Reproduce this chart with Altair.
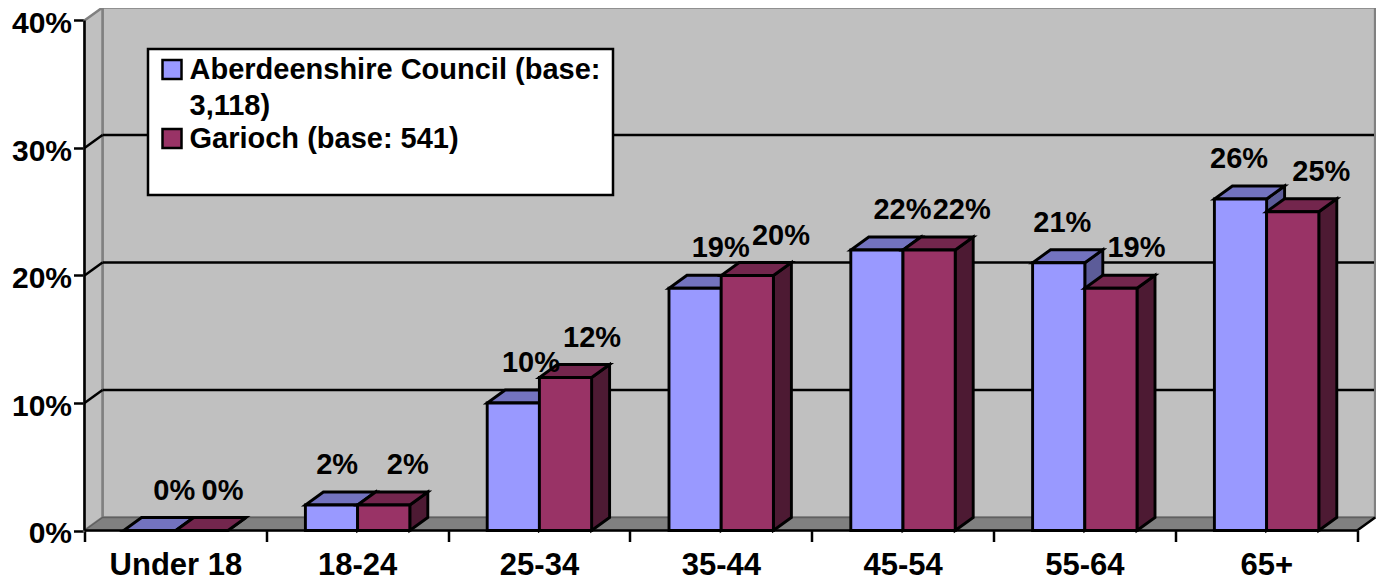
import altair as alt
import pandas as pd

categories = ["Under 18", "18-24", "25-34", "35-44", "45-54", "55-64", "65+"]
aberdeenshire = [0, 2, 10, 19, 22, 21, 26]
garioch = [0, 2, 12, 20, 22, 19, 25]
series_names = ["Aberdeenshire Council (base: 3,118)", "Garioch (base: 541)"]
y_ticks = [0, 10, 20, 30, 40]
grid_values = [10, 20, 30]

# layout constants (pixels)
CAT_W = 181.8
PLOT_W = 1291.5
PLOT_H = 522.5
PCT = 12.75
DX = 18 / CAT_W
DY = 13 / PCT
BAR_W = 52.2 / CAT_W
BAR_SHIFT = 0.4 / CAT_W
XMAX = PLOT_W / CAT_W
YMAX = PLOT_H / PCT
WALL_R = 7 + DX
WALL_T = 40 + DY
FONT = "Liberation Sans"
FS = 29
SW = 2.5
BAR_SW = 2.9

# label nudges relative to the front-face centre of each bar, px
nudge_a = [25, 6, 18, 26, 26, 4, -1]
nudge_b = [21, 24.5, 27, 34, 33, 26, 29]

xs = alt.Scale(domain=[0, XMAX], range=[0, PLOT_W], nice=False, zero=False)
ys = alt.Scale(domain=[0, YMAX], range=[PLOT_H, 0], nice=False, zero=False)
label_arr = "[" + ",".join(f"'{c}'" for c in categories) + ",''][datum.value]"
x_axis = alt.Axis(values=list(range(8)), title=None, domain=False, grid=False,
                  tickSize=11, tickWidth=SW, tickColor="black",
                  labelExpr=label_arr, labelOffset=CAT_W / 2, labelOverlap=False,
                  labelFlush=False, labelFont=FONT, labelFontSize=31, labelFontWeight="bold",
                  labelColor="black", labelPadding=9, labelBaseline="top", labelAlign="center")
y_axis = alt.Axis(values=y_ticks, title=None, domain=False, grid=False,
                  tickSize=11, tickWidth=SW, tickColor="black",
                  labelExpr="datum.value + '%'", labelOverlap=False, labelFlush=False,
                  labelFont=FONT, labelFontSize=30, labelFontWeight="bold",
                  labelColor="black", labelPadding=2, labelOffset=3)


def X(f):
    return alt.X(f, type="quantitative", scale=xs, axis=x_axis, stack=None)


def Y(f):
    return alt.Y(f, type="quantitative", scale=ys, axis=y_axis, stack=None)


def df(rows):
    return pd.DataFrame(rows)


wall = alt.Chart(df([dict(a=DX, b=WALL_R, c=DY, d=WALL_T)])).mark_rect(
    fill="#C0C0C0", stroke="#808080", strokeWidth=SW
).encode(x=X("a"), x2="b", y=Y("c"), y2="d")

left_wall = alt.Chart(df([dict(x=0, y=0, y2=40), dict(x=DX, y=DY, y2=WALL_T)])).mark_area(
    orient="vertical", fill="#C0C0C0", stroke="#808080", strokeWidth=SW
).encode(x=X("x"), y=Y("y"), y2="y2")

floor = alt.Chart(df([dict(y=0, x=0, x2=7), dict(y=DY, x=DX, x2=WALL_R)])).mark_area(
    orient="horizontal", fill="#808080", stroke="#606060", strokeWidth=1.5
).encode(y=Y("y"), x=X("x"), x2="x2")

grid_h = alt.Chart(df([dict(y=v + DY, a=DX, b=WALL_R - 0.006) for v in grid_values])).mark_rule(
    color="black", strokeWidth=SW
).encode(y=Y("y"), x=X("a"), x2="b")

grid_s_rows = []
for v in grid_values:
    grid_s_rows += [dict(g=v, x=0, y=v), dict(g=v, x=DX, y=v + DY)]
grid_s = alt.Chart(df(grid_s_rows)).mark_line(color="black", strokeWidth=SW).encode(
    x=X("x"), y=Y("y"), detail="g:N"
)

legend_box = alt.Chart(df([dict(k=1)])).mark_rect(
    fill="white", stroke="black", strokeWidth=SW
).encode(x=alt.value(63.5), x2=alt.value(528.5), y=alt.value(41), y2=alt.value(187))


def bar_layers(values, name, idx, front, top, side):
    tops, sides, fronts = [], [], []
    for i, v in enumerate(values):
        x0 = i + 0.5 - BAR_W + idx * BAR_W + BAR_SHIFT
        x1 = x0 + BAR_W
        tops += [dict(c=i, y=v, a=x0, b=x1), dict(c=i, y=v + DY, a=x0 + DX, b=x1 + DX)]
        sides += [dict(c=i, x=x1, a=0, b=v), dict(c=i, x=x1 + DX, a=DY, b=v + DY)]
        fronts += [dict(c=i, a=x0, b=x1, v=v, base=0, series=name)]
    s = alt.Chart(df(sides)).mark_area(orient="vertical", fill=side, stroke="black", strokeWidth=BAR_SW).encode(
        x=X("x"), y=Y("a"), y2="b", detail="c:N")
    t = alt.Chart(df(tops)).mark_area(orient="horizontal", fill=top, stroke="black", strokeWidth=BAR_SW).encode(
        y=Y("y"), x=X("a"), x2="b", detail="c:N")
    f = alt.Chart(df(fronts)).mark_rect(stroke="black", strokeWidth=BAR_SW).encode(
        x=X("a"), x2="b", y=Y("base"), y2="v",
        color=alt.Color("series:N", scale=color_scale, legend=legend))
    return [s, t, f]


color_scale = alt.Scale(domain=series_names, range=["#9999FF", "#993366"])
legend = alt.Legend(
    title=None, orient="none", legendX=73, legendY=47, padding=0,
    symbolType="square", symbolSize=361, symbolStrokeColor="black", symbolStrokeWidth=2.5,
    symbolOpacity=1, labelFont=FONT, labelFontSize=FS, labelFontWeight="bold", labelColor="black",
    labelLimit=500, labelOffset=3, rowPadding=3,
    labelExpr="datum.label == 'Garioch (base: 541)' ? datum.label : ['Aberdeenshire Council (base:', '3,118)']",
)

layers_a = bar_layers(aberdeenshire, series_names[0], 0, "#9999FF", "#7373BF", "#5C5C99")
layers_b = bar_layers(garioch, series_names[1], 1, "#993366", "#73264D", "#4D1A33")

axis_y = alt.Chart(df([dict(x=0, a=0, b=40)])).mark_rule(color="black", strokeWidth=SW).encode(
    x=X("x"), y=Y("a"), y2="b")
axis_x = alt.Chart(df([dict(y=0, a=0, b=7)])).mark_rule(color="black", strokeWidth=SW).encode(
    y=Y("y"), x=X("a"), x2="b")
floor_r = alt.Chart(df([dict(x=7, y=0), dict(x=WALL_R, y=DY)])).mark_line(color="black", strokeWidth=SW).encode(
    x=X("x"), y=Y("y"))

label_rows = []
for i, c in enumerate(categories):
    label_rows.append(dict(x=i + 0.5 - BAR_W / 2 + nudge_a[i] / CAT_W, v=aberdeenshire[i], t=f"{aberdeenshire[i]}%"))
    label_rows.append(dict(x=i + 0.5 + BAR_W / 2 + nudge_b[i] / CAT_W, v=garioch[i], t=f"{garioch[i]}%"))
labels = alt.Chart(df(label_rows)).mark_text(
    font=FONT, fontSize=FS, fontWeight="bold", color="black", baseline="middle", align="center", dy=-40
).encode(x=X("x"), y=Y("v"), text="t:N")

chart = alt.layer(
    wall, left_wall, floor, grid_s, grid_h, legend_box,
    *layers_a, *layers_b, floor_r, axis_y, axis_x, labels
).properties(
    width=PLOT_W, height=PLOT_H, autosize="none", background="white",
    padding={"left": 76.5, "top": 0, "right": 0, "bottom": 52},
).configure_view(stroke=None)
chart.config.style = {"guide-label": {"lineHeight": 36}}

chart.save("out.html", embed_options={"renderer": "svg", "actions": False})
